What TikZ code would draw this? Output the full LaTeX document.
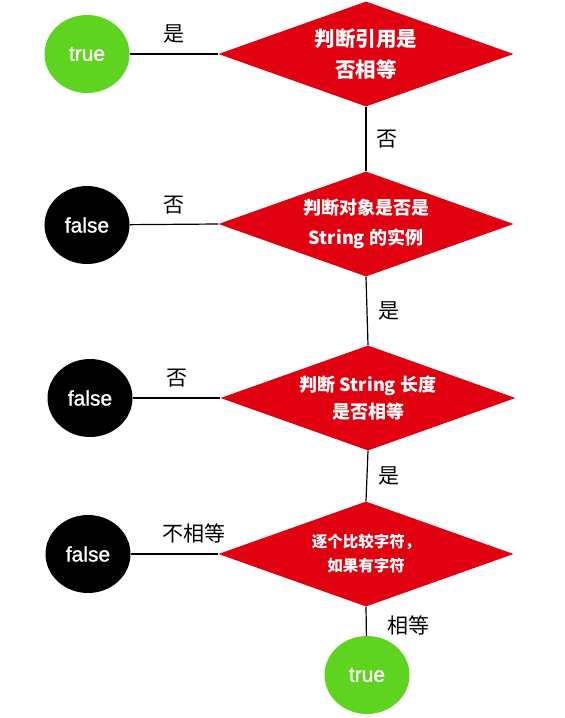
\documentclass[tikz,border=0pt]{standalone}
\usepackage{fontspec}
\setmainfont{Noto Sans CJK SC}
\newfontfamily\latinfont[FakeBold=1.2]{Liberation Sans}
\usetikzlibrary{shapes.geometric}
\definecolor{checkred}{HTML}{E0000F}
\definecolor{truegreen}{HTML}{5FD420}

\begin{document}
\begin{tikzpicture}[x=1pt, y=-1pt,
  every node/.style={font=\fontsize{21}{25}\selectfont},
  check/.style={diamond, draw=none, fill=checkred, text=white, aspect=2.8, inner sep=0pt, minimum width=295pt, minimum height=105pt, align=center},
  result/.style={ellipse, minimum width=85pt, minimum height=78pt, inner sep=0pt, text=white, font=\latinfont\fontsize{21}{25}\selectfont},
  yes/.style={result, fill=truegreen},
  no/.style={result, fill=black},
  flow/.style={draw, line width=1.2pt},
  answer/.style={inner sep=0pt, font=\fontsize{21}{25}\selectfont}]
\useasboundingbox (0,0) rectangle (565,718);
% checks
\node[check, font=\bfseries\fontsize{20.5}{31}\selectfont] (q1) at (366,54) {判断引用是\\否相等};
\node[check, font=\bfseries\fontsize{18}{30}\selectfont] (q2) at (366,224) {判断对象是否是\\String 的实例};
\node[check, font=\bfseries\fontsize{18}{27}\selectfont] (q3) at (368,398) {判断 String 长度\\是否相等};
\node[check, font=\bfseries\fontsize{15.5}{24}\selectfont] (q4) at (366,554) {逐个比较字符，\\如果有字符};
% results
\node[yes] (t1) at (87,54) {true};
\node[no] (f1) at (87,225) {false};
\node[no] (f2) at (90,398) {false};
\node[no] (f3) at (88,554) {false};
\node[yes] (t2) at (367,675) {true};
% connectors
\draw[flow] (t1) -- node[answer, above=10pt] {是} (q1.west);
\draw[flow] (q1.south) -- node[answer, right=10pt] {否} (q2.north);
\draw[flow] (f1) -- node[answer, above=10pt] {否} (q2.west);
\draw[flow] (q2.south) -- node[answer, right=11pt] {是} (q3.north);
\draw[flow] (f2) -- node[answer, above=10pt] {否} (q3.west);
\draw[flow] (q3.south) -- node[answer, right=11pt] {是} (q4.north);
\draw[flow] (f3) -- node[answer, pos=0.72, above=10pt] {不相等} (q4.west);
\draw[flow] (q4.south) -- node[answer, right=21pt, yshift=-4pt] {相等} (t2);
\end{tikzpicture}
\end{document}
